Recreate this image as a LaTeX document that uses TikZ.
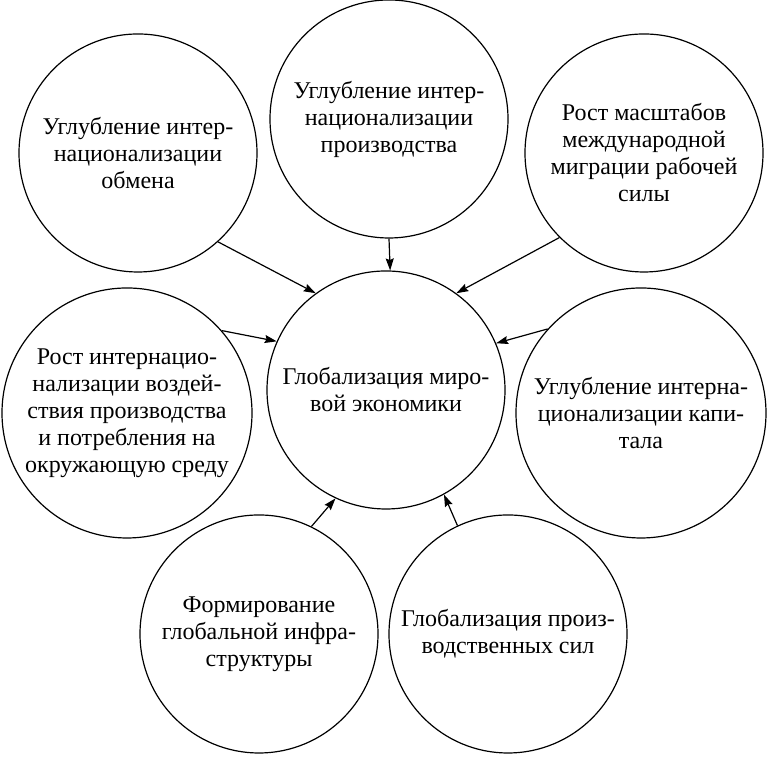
\documentclass[tikz,border=0pt]{standalone}
\usepackage{fontspec}
\setmainfont{Liberation Serif}
\usetikzlibrary{arrows.meta}

\begin{document}
\begin{tikzpicture}[
  x=0.5pt, y=0.5pt,
  factor/.style={draw, circle, line width=0.6pt, align=center, inner sep=0pt, minimum size=119pt, font=\fontsize{12}{13.5}\selectfont},
  bigfactor/.style={factor, minimum size=125pt},
  arrow/.style={-{Stealth[length=6pt, width=4pt, inset=0.8pt]}, line width=0.6pt}
]
\useasboundingbox (0,0) rectangle (767,763);

\node[factor] (glob) at (386,373) {Глобализация миро-\\вой экономики};
\node[factor] (exch) at (138,610) {Углубление интер-\\национализации\\обмена};
\node[factor] (prod) at (389,644) {Углубление интер-\\национализации\\производства};
\node[factor] (migr) at (644,610) {Рост масштабов\\международной\\миграции рабочей\\силы};
\node[bigfactor] (env) at (127,350) {Рост интернацио-\\нализации воздей-\\ствия производства\\и потребления на\\окружающую среду};
\node[bigfactor] (cap) at (641,350) {Углубление интерна-\\ционализации капи-\\тала};
\node[factor] (infra) at (259,129) {Формирование\\глобальной инфра-\\структуры};
\node[factor] (forces) at (508,129) {Глобализация произ-\\водственных сил};

\draw[arrow] (exch.-48) -- (glob.126.6);
\draw[arrow] (prod.south) -- (glob.88.6);
\draw[arrow] (migr.-135.7) -- (glob.54.2);
\draw[arrow] (env.41.8) -- (glob.156.9);
\draw[arrow] (cap.138.2) -- (glob.23.5);
\draw[arrow] (infra.64.9) -- (glob.-115.3);
\draw[arrow] (forces.115.9) -- (glob.-61.5);
\end{tikzpicture}
\end{document}
